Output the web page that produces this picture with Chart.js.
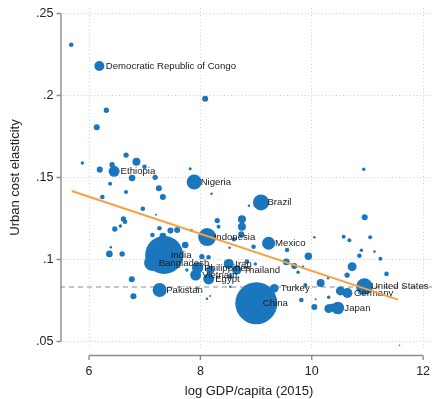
<!DOCTYPE html>
<html>
<head>
<meta charset="utf-8">
<script src="https://cdn.jsdelivr.net/npm/chart.js@4.4.1/dist/chart.umd.min.js"></script>
<style>
  html, body { margin: 0; padding: 0; background: #fff; }
</style>
</head>
<body>
<canvas id="chart" width="434" height="399"></canvas>
<script>
// country label ("" = unlabeled), log GDP per capita, urban cost elasticity, population (millions)
var names = [
  "Democratic Republic of Congo", "Ethiopia", "Nigeria", "Brazil", "Indonesia", "Mexico",
  "India", "Bangladesh", "Philippines", "Iran", "Vietnam", "Egypt", "Thailand", "Pakistan",
  "Turkey", "China", "United States", "Germany", "Japan",
  "", "", "", "", "", "", "", "", "", "", "", "", "", "", "", "", "", "", "", "", "", "",
  "", "", "", "", "", "", "", "", "", "", "", "", "", "", "", "", "", "", "", "", "", "",
  "", "", "", "", "", "", "", "", "", "", "", "", "", "", "", "", "", "", "", "", "", "",
  "", "", "", "", "", "", "", "", "", "", "", "", "", "", "", "", "", "", ""
];
var gdp = [
  6.185, 6.45, 7.888, 9.088, 8.122, 9.225, 7.349, 7.133, 7.951, 8.509, 7.915, 8.149, 8.653, 7.268,
  9.327, 9.004, 10.946, 10.64, 10.469,
  5.68, 8.086, 6.311, 6.138, 6.665, 5.88, 6.851, 6.414, 6.995, 6.192, 6.773, 7.187, 6.378, 7.817,
  7.254, 6.665, 8.2, 7.326, 6.239, 6.966, 7.205, 6.617, 6.647, 6.563, 6.462, 8.302, 8.326, 7.264,
  7.462, 7.583, 7.138, 7.326, 7.84, 8.523, 8.603, 8.872, 8.746, 8.746, 8.734, 8.955, 9.556, 10.934,
  10.951, 10.047, 10.574, 10.676, 11.049, 10.892, 11.126, 10.856, 11.234, 9.939, 10.725, 9.543,
  9.687, 9.754, 9.843, 10.635, 11.342, 10.293, 10.16, 9.885, 10.514, 10.304, 10.07, 9.813, 10.047,
  10.304, 10.365, 11.576, 6.365, 6.39, 6.594, 7.727, 6.768, 6.797, 8.117, 8.176, 8.027, 8.146,
  7.757, 8.176, 7.937, 8.536, 8.836, 8.986, 8.536
];
var elasticity = [
  0.218, 0.1538, 0.1473, 0.1348, 0.1137, 0.1099, 0.1027, 0.0979, 0.0948, 0.0973, 0.0905, 0.0881,
  0.0936, 0.0814, 0.0824, 0.0733, 0.0835, 0.0796, 0.0704,
  0.231, 0.198, 0.191, 0.1806, 0.1637, 0.1588, 0.1596, 0.1578, 0.1566, 0.1548, 0.1497, 0.1501,
  0.1462, 0.1554, 0.1434, 0.1412, 0.1401, 0.1381, 0.1381, 0.131, 0.1273, 0.1247, 0.123, 0.1204,
  0.1186, 0.1237, 0.12, 0.119, 0.1176, 0.118, 0.1149, 0.1143, 0.1176, 0.1072, 0.1123, 0.1328,
  0.1245, 0.12, 0.1154, 0.1078, 0.1058, 0.155, 0.1257, 0.1135, 0.1139, 0.1117, 0.1135, 0.1056,
  0.1048, 0.1023, 0.1005, 0.102, 0.0956, 0.0985, 0.096, 0.0922, 0.0956, 0.0905, 0.0912, 0.0885,
  0.0857, 0.0845, 0.0808, 0.077, 0.0757, 0.0753, 0.071, 0.07, 0.0706, 0.0477, 0.1034, 0.1074,
  0.1034, 0.1088, 0.0879, 0.0776, 0.0761, 0.0777, 0.1017, 0.1013, 0.0936, 0.0936, 0.0824, 0.0834,
  0.0987, 0.0973, 0.0895
];
var pop = [
  77, 93, 173, 197, 249, 130, 1110, 197, 100, 77, 93, 93, 68, 151, 57, 1357, 212, 77, 122,
  16, 28, 22, 28, 22, 9, 49, 22, 16, 28, 34, 22, 12, 7, 28, 12, 5, 28, 16, 16, 3, 22, 16, 9,
  22, 22, 12, 16, 28, 28, 16, 34, 9, 5, 16, 5, 49, 49, 28, 16, 16, 9, 28, 5, 12, 12, 12, 9,
  5, 16, 12, 42, 62, 34, 28, 9, 5, 22, 16, 5, 49, 12, 62, 9, 3, 16, 28, 57, 49, 2, 34, 5,
  22, 34, 28, 28, 5, 3, 22, 16, 9, 49, 5, 5, 16, 9, 19
];

// linear fit end points and sample mean
var fitX = [5.69, 11.55];
var fitY = [0.1418, 0.0755];
var meanElasticity = 0.0832;

var xTicks = [6, 8, 10, 12];
var yTicks = [0.05, 0.1, 0.15, 0.2, 0.25];

var FONT = "'Liberation Sans', Arial, Helvetica, sans-serif";

var points = gdp.map(function (g, i) {
  return { x: g, y: elasticity[i], r: 0.57 * Math.sqrt(pop[i]) };
});
var fitLine = fitX.map(function (x, i) {
  return { x: x, y: fitY[i] };
});

function fmtY(v) {
  return String(v).replace(/^0/, "");
}

var meanLine = {
  id: "meanLine",
  beforeDatasetsDraw: function (chart) {
    var ctx = chart.ctx, area = chart.chartArea;
    var py = chart.scales.y.getPixelForValue(meanElasticity);
    ctx.save();
    ctx.strokeStyle = "#8c8c8c";
    ctx.lineWidth = 1.2;
    ctx.setLineDash([5, 4]);
    ctx.beginPath();
    ctx.moveTo(area.left - 3, py);
    ctx.lineTo(area.right, py);
    ctx.stroke();
    ctx.restore();
  }
};

var pointLabels = {
  id: "pointLabels",
  afterDatasetDraw: function (chart, args) {
    if (args.index !== 0) return;
    var ctx = chart.ctx;
    ctx.save();
    ctx.font = "9.6px " + FONT;
    ctx.fillStyle = "#1a1a1a";
    ctx.textAlign = "left";
    ctx.textBaseline = "middle";
    args.meta.data.forEach(function (el, i) {
      if (names[i]) ctx.fillText(names[i], el.x + 6.5, el.y);
    });
    ctx.restore();
  }
};

// Stata style axes: line only between first and last tick, set off from the plot
var axes = {
  id: "axes",
  afterDraw: function (chart) {
    var ctx = chart.ctx, area = chart.chartArea;
    var xs = chart.scales.x, ys = chart.scales.y;
    ctx.save();
    ctx.strokeStyle = "#8c8c8c";
    ctx.lineWidth = 1.4;

    // y axis
    var ax = area.left - 2;
    ctx.beginPath();
    ctx.moveTo(ax, ys.getPixelForValue(yTicks[0]));
    ctx.lineTo(ax, ys.getPixelForValue(yTicks[yTicks.length - 1]));
    yTicks.forEach(function (t) {
      var p = ys.getPixelForValue(t);
      ctx.moveTo(ax, p);
      ctx.lineTo(ax - 4.5, p);
    });
    ctx.stroke();

    // x axis
    var ay = area.bottom + 7.5;
    ctx.beginPath();
    ctx.moveTo(xs.getPixelForValue(xTicks[0]), ay);
    ctx.lineTo(xs.getPixelForValue(xTicks[xTicks.length - 1]), ay);
    xTicks.forEach(function (t) {
      var p = xs.getPixelForValue(t);
      ctx.moveTo(p, ay);
      ctx.lineTo(p, ay + 4.5);
    });
    ctx.stroke();

    ctx.fillStyle = "#222";
    ctx.font = "12.5px " + FONT;
    ctx.textBaseline = "middle";
    ctx.textAlign = "right";
    yTicks.forEach(function (t) {
      ctx.fillText(fmtY(t), ax - 7.5, ys.getPixelForValue(t));
    });
    ctx.textAlign = "center";
    xTicks.forEach(function (t) {
      ctx.fillText(String(t), xs.getPixelForValue(t), ay + 16.5);
    });

    ctx.font = "13px " + FONT;
    ctx.fillText("log GDP/capita (2015)", (xs.getPixelForValue(xTicks[0]) + xs.getPixelForValue(xTicks[xTicks.length - 1])) / 2 - 7, ay + 36);
    var midY = (ys.getPixelForValue(yTicks[0]) + ys.getPixelForValue(yTicks[yTicks.length - 1])) / 2;
    ctx.translate(15, midY);
    ctx.rotate(-Math.PI / 2);
    ctx.fillText("Urban cost elasticity", 0, 0);
    ctx.restore();
  }
};

new Chart(document.getElementById("chart"), {
  type: "bubble",
  data: {
    datasets: [
      {
        type: "bubble",
        data: points,
        backgroundColor: "#1a76bd",
        borderWidth: 0,
        order: 2
      },
      {
        type: "line",
        data: fitLine,
        borderColor: "#f9a03f",
        borderWidth: 2,
        pointRadius: 0,
        fill: false,
        order: 1
      }
    ]
  },
  options: {
    responsive: false,
    animation: false,
    devicePixelRatio: 1,
    layout: { autoPadding: false, padding: { left: 63, right: 2, top: 8, bottom: 51 } },
    plugins: {
      legend: { display: false },
      tooltip: { enabled: false }
    },
    scales: {
      x: {
        type: "linear",
        min: 5.532,
        max: 12.16,
        afterBuildTicks: function (s) {
          s.ticks = xTicks.map(function (v) { return { value: v }; });
        },
        ticks: { display: false },
        grid: { color: "#cfcfcf", lineWidth: 1, drawTicks: false },
        border: { display: false, dash: [1, 2.5] }
      },
      y: {
        type: "linear",
        min: 0.046,
        max: 0.2534,
        afterBuildTicks: function (s) {
          s.ticks = yTicks.map(function (v) { return { value: v }; });
        },
        ticks: { display: false },
        grid: { color: "#cfcfcf", lineWidth: 1, drawTicks: false },
        border: { display: false, dash: [1, 2.5] }
      }
    }
  },
  plugins: [meanLine, pointLabels, axes]
});
</script>
</body>
</html>
